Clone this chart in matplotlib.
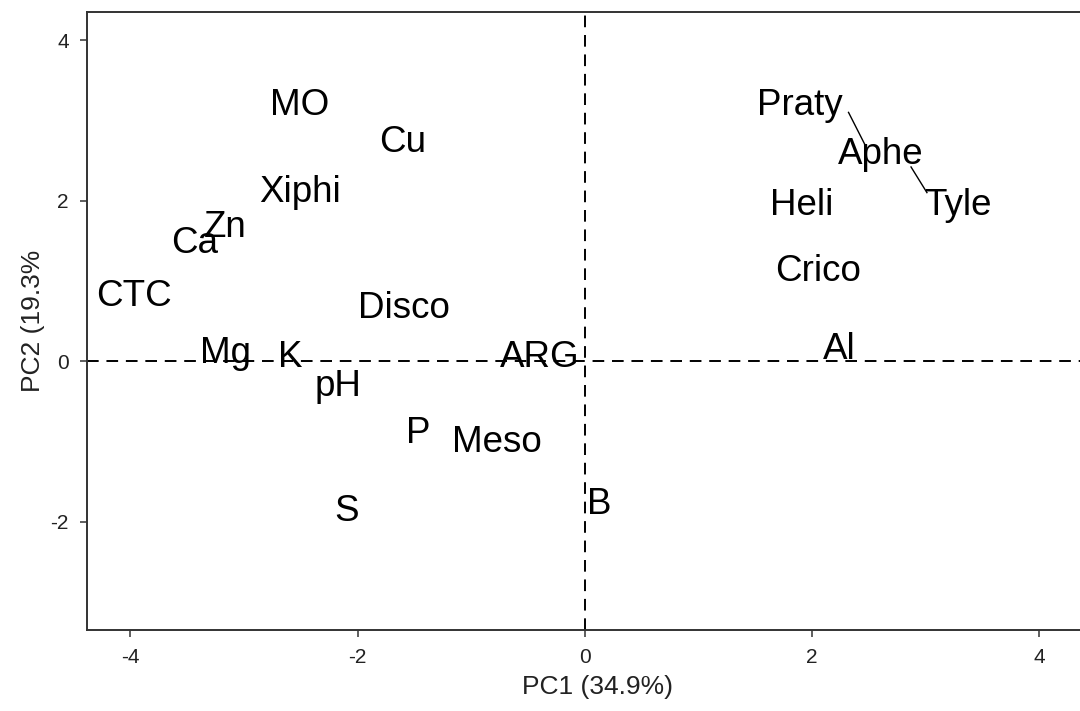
import matplotlib
matplotlib.use("Agg")
import matplotlib.pyplot as plt

plt.rcParams['font.family'] = ['Liberation Sans', 'DejaVu Sans']
plt.rcParams['axes.unicode_minus'] = False

# variable / taxon labels on the first two principal components
labels = ["MO", "Cu", "Xiphi", "Zn", "Ca", "CTC", "Disco", "Mg", "K", "pH",
          "ARG", "P", "Meso", "S", "B", "Praty", "Aphe", "Heli", "Tyle",
          "Crico", "Al"]
pc1 = [-2.51, -1.60, -2.51, -3.16, -3.43, -3.97, -1.59, -3.16, -2.59, -2.17,
       -0.40, -1.47, -0.77, -2.10, 0.13, 1.89, 2.60, 1.91, 3.28,
       2.05, 2.24]
pc2 = [3.19, 2.73, 2.10, 1.67, 1.47, 0.81, 0.66, 0.10, 0.04, -0.32,
       0.05, -0.90, -1.01, -1.87, -1.79, 3.19, 2.57, 1.94, 1.94,
       1.12, 0.14]

# repel segments (label -> point)
seg_x0 = [2.32, 2.87]
seg_y0 = [3.10, 2.42]
seg_x1 = [2.46, 3.01]
seg_y1 = [2.71, 2.10]

fig = plt.figure(figsize=(10.8, 7.11), dpi=100)
ax = fig.add_axes([0.0806, 0.114, 0.945, 0.869])

ax.axhline(0, color="black", lw=1.4, ls=(0, (6, 4)), zorder=1)
ax.axvline(0, color="black", lw=1.4, ls=(0, (6, 4)), zorder=1)

for x0, y0, x1, y1 in zip(seg_x0, seg_y0, seg_x1, seg_y1):
    ax.plot([x0, x1], [y0, y1], color="black", lw=1.0, zorder=2)

for lab, x, y in zip(labels, pc1, pc2):
    ax.text(x, y, lab, fontsize=26.5, ha="center", va="center",
            color="black", zorder=3)

ax.set_xlim(-4.38, 4.6)
ax.set_ylim(-3.35, 4.35)
ax.set_xticks([-4, -2, 0, 2, 4])
ax.set_yticks([-2, 0, 2, 4])
ax.tick_params(direction="out", length=5, width=1.1, colors="#333333",
               labelsize=15, labelcolor="#222222", pad=8)
for sp in ax.spines.values():
    sp.set_color("#333333")
    sp.set_linewidth(1.4)

ax.set_xlabel("PC1 (34.9%)", fontsize=19, color="#222222", labelpad=6)
ax.set_ylabel("PC2 (19.3%", fontsize=19, color="#222222", labelpad=4)

fig.savefig("out.png", dpi=100)
